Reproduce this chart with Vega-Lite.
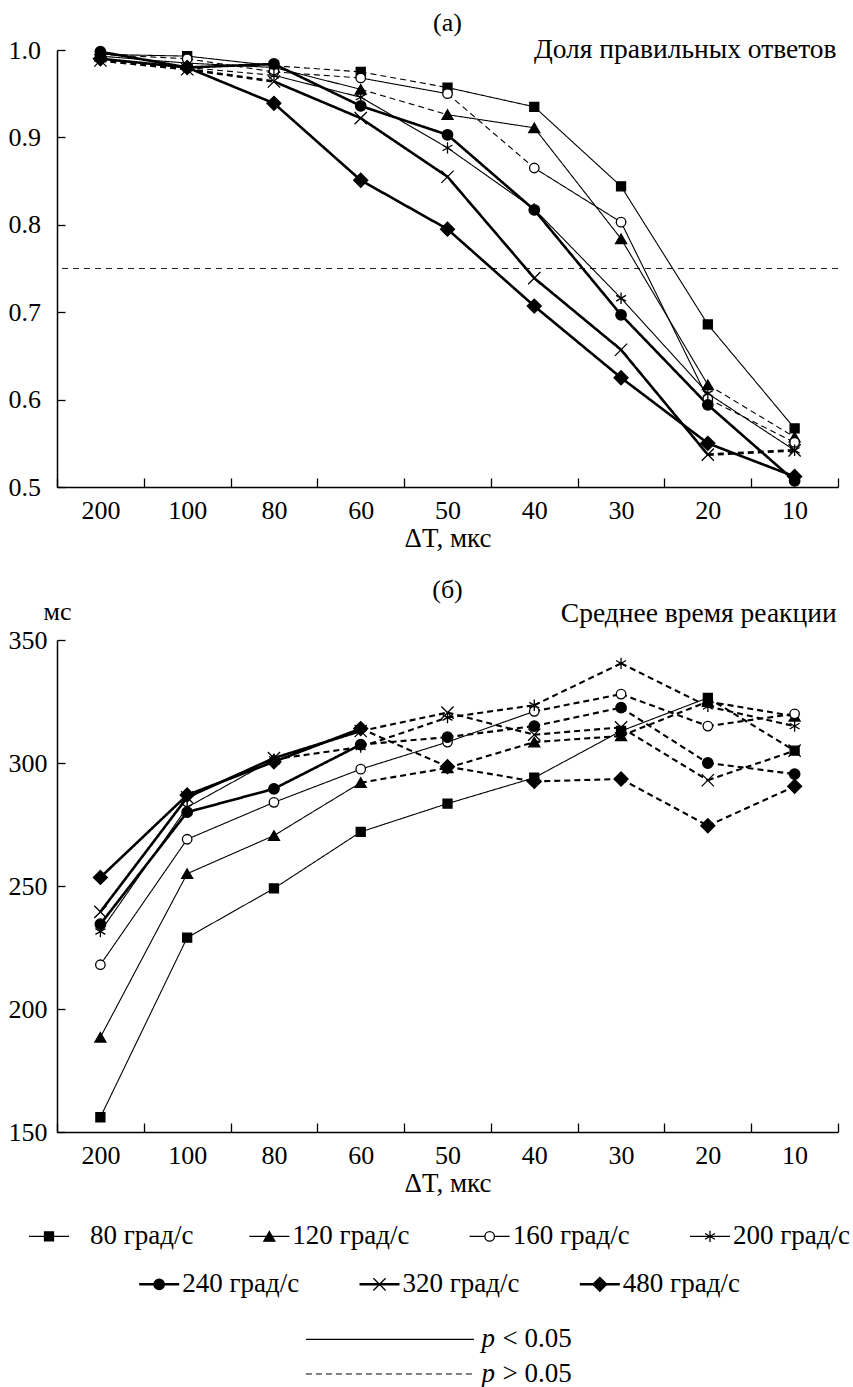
{
  "$schema": "https://vega.github.io/schema/vega-lite/v6.json",
  "background": "white",
  "padding": {"left": 8, "top": 10, "right": 0, "bottom": 0},
  "spacing": 26,
  "config": {
    "view": {"stroke": null},
    "font": "'Liberation Serif', 'Times New Roman', 'DejaVu Serif', serif",
    "axis": {"labelFont": "'Liberation Serif', 'Times New Roman', 'DejaVu Serif', serif", "labelFontSize": 26, "titleFont": "'Liberation Serif', 'Times New Roman', 'DejaVu Serif', serif", "titleFontSize": 27, "titleFontWeight": "normal", "labelColor": "black", "titleColor": "black", "domainColor": "black", "tickColor": "black", "domainWidth": 1.5, "tickWidth": 1.3, "grid": false},
    "text": {"font": "'Liberation Serif', 'Times New Roman', 'DejaVu Serif', serif", "fontSize": 26, "color": "black"}
  },
  "datasets": {
    "ptsA": [
      {"series":"80 град/с","dt":"200","value":0.995},{"series":"80 град/с","dt":"100","value":0.993},{"series":"80 град/с","dt":"80","value":0.982},{"series":"80 град/с","dt":"60","value":0.975},{"series":"80 град/с","dt":"50","value":0.957},{"series":"80 град/с","dt":"40","value":0.935},{"series":"80 град/с","dt":"30","value":0.844},{"series":"80 град/с","dt":"20","value":0.686},{"series":"80 град/с","dt":"10","value":0.567},
      {"series":"120 град/с","dt":"200","value":0.993},{"series":"120 град/с","dt":"100","value":0.985},{"series":"120 град/с","dt":"80","value":0.980},{"series":"120 град/с","dt":"60","value":0.955},{"series":"120 град/с","dt":"50","value":0.926},{"series":"120 град/с","dt":"40","value":0.911},{"series":"120 град/с","dt":"30","value":0.784},{"series":"120 град/с","dt":"20","value":0.617},{"series":"120 град/с","dt":"10","value":0.557},
      {"series":"160 град/с","dt":"200","value":0.995},{"series":"160 град/с","dt":"100","value":0.990},{"series":"160 град/с","dt":"80","value":0.975},{"series":"160 град/с","dt":"60","value":0.968},{"series":"160 град/с","dt":"50","value":0.950},{"series":"160 град/с","dt":"40","value":0.865},{"series":"160 град/с","dt":"30","value":0.803},{"series":"160 град/с","dt":"20","value":0.601},{"series":"160 град/с","dt":"10","value":0.551},
      {"series":"200 град/с","dt":"200","value":0.990},{"series":"200 град/с","dt":"100","value":0.980},{"series":"200 град/с","dt":"80","value":0.971},{"series":"200 град/с","dt":"60","value":0.946},{"series":"200 град/с","dt":"50","value":0.888},{"series":"200 град/с","dt":"40","value":0.818},{"series":"200 град/с","dt":"30","value":0.716},{"series":"200 град/с","dt":"20","value":0.607},{"series":"200 град/с","dt":"10","value":0.542},
      {"series":"240 град/с","dt":"200","value":0.998},{"series":"240 град/с","dt":"100","value":0.980},{"series":"240 град/с","dt":"80","value":0.984},{"series":"240 град/с","dt":"60","value":0.936},{"series":"240 град/с","dt":"50","value":0.903},{"series":"240 град/с","dt":"40","value":0.817},{"series":"240 град/с","dt":"30","value":0.697},{"series":"240 град/с","dt":"20","value":0.594},{"series":"240 град/с","dt":"10","value":0.507},
      {"series":"320 град/с","dt":"200","value":0.988},{"series":"320 град/с","dt":"100","value":0.978},{"series":"320 град/с","dt":"80","value":0.964},{"series":"320 град/с","dt":"60","value":0.922},{"series":"320 град/с","dt":"50","value":0.855},{"series":"320 град/с","dt":"40","value":0.739},{"series":"320 град/с","dt":"30","value":0.657},{"series":"320 град/с","dt":"20","value":0.537},{"series":"320 град/с","dt":"10","value":0.542},
      {"series":"480 град/с","dt":"200","value":0.990},{"series":"480 град/с","dt":"100","value":0.980},{"series":"480 град/с","dt":"80","value":0.939},{"series":"480 град/с","dt":"60","value":0.851},{"series":"480 град/с","dt":"50","value":0.795},{"series":"480 град/с","dt":"40","value":0.707},{"series":"480 град/с","dt":"30","value":0.625},{"series":"480 град/с","dt":"20","value":0.550},{"series":"480 град/с","dt":"10","value":0.512}
    ],
    "ptsB": [
      {"series":"80 град/с","dt":"200","value":156},{"series":"80 град/с","dt":"100","value":229},{"series":"80 град/с","dt":"80","value":249},{"series":"80 град/с","dt":"60","value":272},{"series":"80 град/с","dt":"50","value":283.5},{"series":"80 град/с","dt":"40","value":294},{"series":"80 град/с","dt":"30","value":313},{"series":"80 град/с","dt":"20","value":326.5},{"series":"80 град/с","dt":"10","value":305},
      {"series":"120 град/с","dt":"200","value":188.5},{"series":"120 град/с","dt":"100","value":255},{"series":"120 град/с","dt":"80","value":270.5},{"series":"120 град/с","dt":"60","value":292},{"series":"120 град/с","dt":"50","value":298},{"series":"120 град/с","dt":"40","value":308.5},{"series":"120 град/с","dt":"30","value":311},{"series":"120 град/с","dt":"20","value":325},{"series":"120 град/с","dt":"10","value":319},
      {"series":"160 град/с","dt":"200","value":218},{"series":"160 град/с","dt":"100","value":269},{"series":"160 град/с","dt":"80","value":284},{"series":"160 град/с","dt":"60","value":297.5},{"series":"160 град/с","dt":"50","value":308.5},{"series":"160 град/с","dt":"40","value":321},{"series":"160 град/с","dt":"30","value":328},{"series":"160 град/с","dt":"20","value":315},{"series":"160 град/с","dt":"10","value":320},
      {"series":"200 град/с","dt":"200","value":231.5},{"series":"200 град/с","dt":"100","value":282},{"series":"200 град/с","dt":"80","value":301.5},{"series":"200 град/с","dt":"60","value":306.5},{"series":"200 град/с","dt":"50","value":318.5},{"series":"200 град/с","dt":"40","value":323.5},{"series":"200 град/с","dt":"30","value":340.5},{"series":"200 град/с","dt":"20","value":323},{"series":"200 град/с","dt":"10","value":315},
      {"series":"240 град/с","dt":"200","value":234.5},{"series":"240 град/с","dt":"100","value":280},{"series":"240 град/с","dt":"80","value":289.5},{"series":"240 град/с","dt":"60","value":307.5},{"series":"240 град/с","dt":"50","value":310.5},{"series":"240 град/с","dt":"40","value":315},{"series":"240 град/с","dt":"30","value":322.5},{"series":"240 град/с","dt":"20","value":300},{"series":"240 град/с","dt":"10","value":295.5},
      {"series":"320 град/с","dt":"200","value":239.5},{"series":"320 град/с","dt":"100","value":286},{"series":"320 град/с","dt":"80","value":302},{"series":"320 град/с","dt":"60","value":313},{"series":"320 град/с","dt":"50","value":320.5},{"series":"320 град/с","dt":"40","value":311.5},{"series":"320 град/с","dt":"30","value":314.5},{"series":"320 град/с","dt":"20","value":293},{"series":"320 град/с","dt":"10","value":305},
      {"series":"480 град/с","dt":"200","value":253.5},{"series":"480 град/с","dt":"100","value":287},{"series":"480 град/с","dt":"80","value":300.5},{"series":"480 град/с","dt":"60","value":314},{"series":"480 град/с","dt":"50","value":298.5},{"series":"480 град/с","dt":"40","value":292.5},{"series":"480 град/с","dt":"30","value":293.5},{"series":"480 град/с","dt":"20","value":274.5},{"series":"480 град/с","dt":"10","value":290.5}
    ],
    "segA": [
      {"series":"80 град/с","from":"200","to":"100","v1":0.995,"v2":0.993,"sig":"p < 0.05"},
      {"series":"80 град/с","from":"100","to":"80","v1":0.993,"v2":0.982,"sig":"p < 0.05"},
      {"series":"80 град/с","from":"80","to":"60","v1":0.982,"v2":0.975,"sig":"p > 0.05"},
      {"series":"80 град/с","from":"60","to":"50","v1":0.975,"v2":0.957,"sig":"p > 0.05"},
      {"series":"80 град/с","from":"50","to":"40","v1":0.957,"v2":0.935,"sig":"p < 0.05"},
      {"series":"80 град/с","from":"40","to":"30","v1":0.935,"v2":0.844,"sig":"p < 0.05"},
      {"series":"80 град/с","from":"30","to":"20","v1":0.844,"v2":0.686,"sig":"p < 0.05"},
      {"series":"80 град/с","from":"20","to":"10","v1":0.686,"v2":0.567,"sig":"p < 0.05"},
      {"series":"120 град/с","from":"200","to":"100","v1":0.993,"v2":0.985,"sig":"p < 0.05"},
      {"series":"120 град/с","from":"100","to":"80","v1":0.985,"v2":0.980,"sig":"p < 0.05"},
      {"series":"120 град/с","from":"80","to":"60","v1":0.980,"v2":0.955,"sig":"p < 0.05"},
      {"series":"120 град/с","from":"60","to":"50","v1":0.955,"v2":0.926,"sig":"p > 0.05"},
      {"series":"120 град/с","from":"50","to":"40","v1":0.926,"v2":0.911,"sig":"p < 0.05"},
      {"series":"120 град/с","from":"40","to":"30","v1":0.911,"v2":0.784,"sig":"p < 0.05"},
      {"series":"120 град/с","from":"30","to":"20","v1":0.784,"v2":0.617,"sig":"p < 0.05"},
      {"series":"120 град/с","from":"20","to":"10","v1":0.617,"v2":0.557,"sig":"p > 0.05"},
      {"series":"160 град/с","from":"200","to":"100","v1":0.995,"v2":0.990,"sig":"p > 0.05"},
      {"series":"160 град/с","from":"100","to":"80","v1":0.990,"v2":0.975,"sig":"p > 0.05"},
      {"series":"160 град/с","from":"80","to":"60","v1":0.975,"v2":0.968,"sig":"p > 0.05"},
      {"series":"160 град/с","from":"60","to":"50","v1":0.968,"v2":0.950,"sig":"p < 0.05"},
      {"series":"160 град/с","from":"50","to":"40","v1":0.950,"v2":0.865,"sig":"p > 0.05"},
      {"series":"160 град/с","from":"40","to":"30","v1":0.865,"v2":0.803,"sig":"p < 0.05"},
      {"series":"160 град/с","from":"30","to":"20","v1":0.803,"v2":0.601,"sig":"p < 0.05"},
      {"series":"160 град/с","from":"20","to":"10","v1":0.601,"v2":0.551,"sig":"p > 0.05"},
      {"series":"200 град/с","from":"200","to":"100","v1":0.990,"v2":0.980,"sig":"p < 0.05"},
      {"series":"200 град/с","from":"100","to":"80","v1":0.980,"v2":0.971,"sig":"p > 0.05"},
      {"series":"200 град/с","from":"80","to":"60","v1":0.971,"v2":0.946,"sig":"p < 0.05"},
      {"series":"200 град/с","from":"60","to":"50","v1":0.946,"v2":0.888,"sig":"p < 0.05"},
      {"series":"200 град/с","from":"50","to":"40","v1":0.888,"v2":0.818,"sig":"p < 0.05"},
      {"series":"200 град/с","from":"40","to":"30","v1":0.818,"v2":0.716,"sig":"p < 0.05"},
      {"series":"200 град/с","from":"30","to":"20","v1":0.716,"v2":0.607,"sig":"p < 0.05"},
      {"series":"200 град/с","from":"20","to":"10","v1":0.607,"v2":0.542,"sig":"p < 0.05"},
      {"series":"240 град/с","from":"200","to":"100","v1":0.998,"v2":0.980,"sig":"p < 0.05"},
      {"series":"240 град/с","from":"100","to":"80","v1":0.980,"v2":0.984,"sig":"p < 0.05"},
      {"series":"240 град/с","from":"80","to":"60","v1":0.984,"v2":0.936,"sig":"p < 0.05"},
      {"series":"240 град/с","from":"60","to":"50","v1":0.936,"v2":0.903,"sig":"p < 0.05"},
      {"series":"240 град/с","from":"50","to":"40","v1":0.903,"v2":0.817,"sig":"p < 0.05"},
      {"series":"240 град/с","from":"40","to":"30","v1":0.817,"v2":0.697,"sig":"p < 0.05"},
      {"series":"240 град/с","from":"30","to":"20","v1":0.697,"v2":0.594,"sig":"p < 0.05"},
      {"series":"240 град/с","from":"20","to":"10","v1":0.594,"v2":0.507,"sig":"p < 0.05"},
      {"series":"320 град/с","from":"200","to":"100","v1":0.988,"v2":0.978,"sig":"p > 0.05"},
      {"series":"320 град/с","from":"100","to":"80","v1":0.978,"v2":0.964,"sig":"p > 0.05"},
      {"series":"320 град/с","from":"80","to":"60","v1":0.964,"v2":0.922,"sig":"p < 0.05"},
      {"series":"320 град/с","from":"60","to":"50","v1":0.922,"v2":0.855,"sig":"p < 0.05"},
      {"series":"320 град/с","from":"50","to":"40","v1":0.855,"v2":0.739,"sig":"p < 0.05"},
      {"series":"320 град/с","from":"40","to":"30","v1":0.739,"v2":0.657,"sig":"p < 0.05"},
      {"series":"320 град/с","from":"30","to":"20","v1":0.657,"v2":0.537,"sig":"p < 0.05"},
      {"series":"320 град/с","from":"20","to":"10","v1":0.537,"v2":0.542,"sig":"p > 0.05"},
      {"series":"480 град/с","from":"200","to":"100","v1":0.990,"v2":0.980,"sig":"p < 0.05"},
      {"series":"480 град/с","from":"100","to":"80","v1":0.980,"v2":0.939,"sig":"p < 0.05"},
      {"series":"480 град/с","from":"80","to":"60","v1":0.939,"v2":0.851,"sig":"p < 0.05"},
      {"series":"480 град/с","from":"60","to":"50","v1":0.851,"v2":0.795,"sig":"p < 0.05"},
      {"series":"480 град/с","from":"50","to":"40","v1":0.795,"v2":0.707,"sig":"p < 0.05"},
      {"series":"480 град/с","from":"40","to":"30","v1":0.707,"v2":0.625,"sig":"p < 0.05"},
      {"series":"480 град/с","from":"30","to":"20","v1":0.625,"v2":0.550,"sig":"p < 0.05"},
      {"series":"480 град/с","from":"20","to":"10","v1":0.550,"v2":0.512,"sig":"p < 0.05"}
    ],
    "segB": [
      {"series":"80 град/с","from":"200","to":"100","v1":156,"v2":229,"sig":"p < 0.05"},
      {"series":"80 град/с","from":"100","to":"80","v1":229,"v2":249,"sig":"p < 0.05"},
      {"series":"80 град/с","from":"80","to":"60","v1":249,"v2":272,"sig":"p < 0.05"},
      {"series":"80 град/с","from":"60","to":"50","v1":272,"v2":283.5,"sig":"p < 0.05"},
      {"series":"80 град/с","from":"50","to":"40","v1":283.5,"v2":294,"sig":"p < 0.05"},
      {"series":"80 град/с","from":"40","to":"30","v1":294,"v2":313,"sig":"p < 0.05"},
      {"series":"80 град/с","from":"30","to":"20","v1":313,"v2":326.5,"sig":"p < 0.05"},
      {"series":"80 град/с","from":"20","to":"10","v1":326.5,"v2":305,"sig":"p > 0.05"},
      {"series":"120 град/с","from":"200","to":"100","v1":188.5,"v2":255,"sig":"p < 0.05"},
      {"series":"120 град/с","from":"100","to":"80","v1":255,"v2":270.5,"sig":"p < 0.05"},
      {"series":"120 град/с","from":"80","to":"60","v1":270.5,"v2":292,"sig":"p < 0.05"},
      {"series":"120 град/с","from":"60","to":"50","v1":292,"v2":298,"sig":"p > 0.05"},
      {"series":"120 град/с","from":"50","to":"40","v1":298,"v2":308.5,"sig":"p > 0.05"},
      {"series":"120 град/с","from":"40","to":"30","v1":308.5,"v2":311,"sig":"p > 0.05"},
      {"series":"120 град/с","from":"30","to":"20","v1":311,"v2":325,"sig":"p > 0.05"},
      {"series":"120 град/с","from":"20","to":"10","v1":325,"v2":319,"sig":"p > 0.05"},
      {"series":"160 град/с","from":"200","to":"100","v1":218,"v2":269,"sig":"p < 0.05"},
      {"series":"160 град/с","from":"100","to":"80","v1":269,"v2":284,"sig":"p < 0.05"},
      {"series":"160 град/с","from":"80","to":"60","v1":284,"v2":297.5,"sig":"p < 0.05"},
      {"series":"160 град/с","from":"60","to":"50","v1":297.5,"v2":308.5,"sig":"p < 0.05"},
      {"series":"160 град/с","from":"50","to":"40","v1":308.5,"v2":321,"sig":"p < 0.05"},
      {"series":"160 град/с","from":"40","to":"30","v1":321,"v2":328,"sig":"p > 0.05"},
      {"series":"160 град/с","from":"30","to":"20","v1":328,"v2":315,"sig":"p > 0.05"},
      {"series":"160 град/с","from":"20","to":"10","v1":315,"v2":320,"sig":"p > 0.05"},
      {"series":"200 град/с","from":"200","to":"100","v1":231.5,"v2":282,"sig":"p < 0.05"},
      {"series":"200 град/с","from":"100","to":"80","v1":282,"v2":301.5,"sig":"p < 0.05"},
      {"series":"200 град/с","from":"80","to":"60","v1":301.5,"v2":306.5,"sig":"p > 0.05"},
      {"series":"200 град/с","from":"60","to":"50","v1":306.5,"v2":318.5,"sig":"p > 0.05"},
      {"series":"200 град/с","from":"50","to":"40","v1":318.5,"v2":323.5,"sig":"p > 0.05"},
      {"series":"200 град/с","from":"40","to":"30","v1":323.5,"v2":340.5,"sig":"p > 0.05"},
      {"series":"200 град/с","from":"30","to":"20","v1":340.5,"v2":323,"sig":"p > 0.05"},
      {"series":"200 град/с","from":"20","to":"10","v1":323,"v2":315,"sig":"p > 0.05"},
      {"series":"240 град/с","from":"200","to":"100","v1":234.5,"v2":280,"sig":"p < 0.05"},
      {"series":"240 град/с","from":"100","to":"80","v1":280,"v2":289.5,"sig":"p < 0.05"},
      {"series":"240 град/с","from":"80","to":"60","v1":289.5,"v2":307.5,"sig":"p < 0.05"},
      {"series":"240 град/с","from":"60","to":"50","v1":307.5,"v2":310.5,"sig":"p > 0.05"},
      {"series":"240 град/с","from":"50","to":"40","v1":310.5,"v2":315,"sig":"p > 0.05"},
      {"series":"240 град/с","from":"40","to":"30","v1":315,"v2":322.5,"sig":"p > 0.05"},
      {"series":"240 град/с","from":"30","to":"20","v1":322.5,"v2":300,"sig":"p > 0.05"},
      {"series":"240 град/с","from":"20","to":"10","v1":300,"v2":295.5,"sig":"p > 0.05"},
      {"series":"320 град/с","from":"200","to":"100","v1":239.5,"v2":286,"sig":"p < 0.05"},
      {"series":"320 град/с","from":"100","to":"80","v1":286,"v2":302,"sig":"p < 0.05"},
      {"series":"320 град/с","from":"80","to":"60","v1":302,"v2":313,"sig":"p < 0.05"},
      {"series":"320 град/с","from":"60","to":"50","v1":313,"v2":320.5,"sig":"p > 0.05"},
      {"series":"320 град/с","from":"50","to":"40","v1":320.5,"v2":311.5,"sig":"p > 0.05"},
      {"series":"320 град/с","from":"40","to":"30","v1":311.5,"v2":314.5,"sig":"p > 0.05"},
      {"series":"320 град/с","from":"30","to":"20","v1":314.5,"v2":293,"sig":"p > 0.05"},
      {"series":"320 град/с","from":"20","to":"10","v1":293,"v2":305,"sig":"p > 0.05"},
      {"series":"480 град/с","from":"200","to":"100","v1":253.5,"v2":287,"sig":"p < 0.05"},
      {"series":"480 град/с","from":"100","to":"80","v1":287,"v2":300.5,"sig":"p < 0.05"},
      {"series":"480 град/с","from":"80","to":"60","v1":300.5,"v2":314,"sig":"p < 0.05"},
      {"series":"480 град/с","from":"60","to":"50","v1":314,"v2":298.5,"sig":"p > 0.05"},
      {"series":"480 град/с","from":"50","to":"40","v1":298.5,"v2":292.5,"sig":"p > 0.05"},
      {"series":"480 град/с","from":"40","to":"30","v1":292.5,"v2":293.5,"sig":"p > 0.05"},
      {"series":"480 град/с","from":"30","to":"20","v1":293.5,"v2":274.5,"sig":"p > 0.05"},
      {"series":"480 град/с","from":"20","to":"10","v1":274.5,"v2":290.5,"sig":"p > 0.05"}
    ],
    "sigs": [{"sig":"p < 0.05"},{"sig":"p > 0.05"}]
  },
  "vconcat": [
    {
      "width": 781, "height": 437,
      "layer": [
        {
          "data": {"values": [{"level": 0.75}]},
          "mark": {"type": "rule", "strokeDash": [6, 5], "color": "#222", "strokeWidth": 1},
          "encoding": {"y": {"field": "level", "type": "quantitative", "scale": {"domain": [0.5, 1.0], "nice": false, "zero": false}, "axis": {"title": null, "values": [0.5, 0.6, 0.7, 0.8, 0.9, 1.0], "format": ".1f", "tickSize": -8, "labelAlign": "left", "labelPadding": 57}}}
        },
        {
          "data": {"name": "segA"},
          "mark": {"type": "rule", "color": "black"},
          "encoding": {
            "x": {"field": "from", "type": "nominal", "bandPosition": 0.5, "scale": {"type": "band", "domain": ["200","100","80","60","50","40","30","20","10"], "paddingInner": 0, "paddingOuter": 0}, "axis": {"title": "ΔT, мкс", "labelAngle": 0, "tickBand": "extent", "tickSize": -9, "labelPadding": 32, "labelBaseline": "middle", "titlePadding": 2}},
            "x2": {"field": "to", "bandPosition": 0.5},
            "y": {"field": "v1", "type": "quantitative", "scale": {"domain": [0.5, 1.0], "nice": false, "zero": false}},
            "y2": {"field": "v2"},
            "strokeDash": {"field": "sig", "type": "nominal", "scale": {"domain": ["p < 0.05", "p > 0.05"], "range": [[1, 0], [6, 4]]}, "legend": null},
            "strokeWidth": {"field": "series", "type": "nominal", "scale": {"type": "ordinal", "domain": ["80 град/с","120 град/с","160 град/с","200 град/с","240 град/с","320 град/с","480 град/с"], "range": [1.1, 1.1, 1.1, 1.1, 2.6, 2.6, 2.6]}, "legend": null}
          }
        },
        {
          "data": {"name": "ptsA"},
          "mark": {"type": "point", "filled": true, "stroke": "black", "strokeWidth": 1.3, "opacity": 1},
          "encoding": {
            "x": {"field": "dt", "type": "nominal", "scale": {"type": "band", "domain": ["200","100","80","60","50","40","30","20","10"], "paddingInner": 0, "paddingOuter": 0}},
            "y": {"field": "value", "type": "quantitative", "scale": {"domain": [0.5, 1.0], "nice": false, "zero": false}},
            "shape": {"field": "series", "type": "nominal", "scale": {"domain": ["80 град/с","120 град/с","160 град/с","200 град/с","240 град/с","320 град/с","480 град/с"], "range": ["square", "triangle-up", "circle", "M0,-1V1M-0.87,-0.5L0.87,0.5M-0.87,0.5L0.87,-0.5", "circle", "M-1,-1L1,1M-1,1L1,-1", "diamond"]}, "legend": null},
            "fill": {"field": "series", "type": "nominal", "scale": {"domain": ["80 град/с","120 град/с","160 град/с","200 град/с","240 град/с","320 град/с","480 град/с"], "range": ["black", "black", "white", "black", "black", "black", "black"]}, "legend": null},
            "size": {"field": "series", "type": "nominal", "scale": {"type": "ordinal", "domain": ["80 град/с","120 град/с","160 град/с","200 град/с","240 град/с","320 град/с","480 град/с"], "range": [81, 121, 90, 130, 110, 150, 196]}, "legend": null}
          }
        },
        {
          "data": {"values": [{"label": "(a)"}]},
          "mark": {"type": "text", "align": "center", "baseline": "middle", "dy": -27, "fontSize": 26},
          "encoding": {
            "x": {"datum": "50", "type": "nominal", "scale": {"type": "band", "domain": ["200","100","80","60","50","40","30","20","10"], "paddingInner": 0, "paddingOuter": 0}},
            "y": {"datum": 1.0, "type": "quantitative", "scale": {"domain": [0.5, 1.0], "nice": false, "zero": false}},
            "text": {"field": "label"}
          }
        },
        {
          "data": {"values": [{"label": "Доля правильных ответов"}]},
          "mark": {"type": "text", "align": "right", "baseline": "alphabetic", "dx": 42, "dy": 8, "fontSize": 27.5},
          "encoding": {
            "x": {"datum": "10", "type": "nominal", "scale": {"type": "band", "domain": ["200","100","80","60","50","40","30","20","10"], "paddingInner": 0, "paddingOuter": 0}},
            "y": {"datum": 1.0, "type": "quantitative", "scale": {"domain": [0.5, 1.0], "nice": false, "zero": false}},
            "text": {"field": "label"}
          }
        }
      ]
    },
    {
      "width": 781, "height": 492,
      "layer": [
        {
          "data": {"name": "segB"},
          "transform": [{"filter": {"field": "sig", "equal": "p < 0.05"}}],
          "mark": {"type": "rule", "color": "black"},
          "encoding": {
            "x": {"field": "from", "type": "nominal", "bandPosition": 0.5, "scale": {"type": "band", "domain": ["200","100","80","60","50","40","30","20","10"], "paddingInner": 0, "paddingOuter": 0}, "axis": {"title": "ΔT, мкс", "labelAngle": 0, "tickBand": "extent", "tickSize": -9, "labelPadding": 32, "labelBaseline": "middle", "titlePadding": 2}},
            "x2": {"field": "to", "bandPosition": 0.5},
            "y": {"field": "v1", "type": "quantitative", "scale": {"domain": [150, 350], "nice": false, "zero": false}, "axis": {"title": "мс", "titleAngle": 0, "titleX": 0, "titleY": -29, "titleAlign": "center", "titleBaseline": "middle", "titleFontSize": 26, "values": [150, 200, 250, 300, 350], "tickSize": -8, "labelAlign": "left", "labelPadding": 57}},
            "y2": {"field": "v2"},
            "strokeDash": {"field": "sig", "type": "nominal", "scale": {"domain": ["p < 0.05", "p > 0.05"], "range": [[1, 0], [6, 4]]}, "legend": null},
            "strokeWidth": {"field": "series", "type": "nominal", "scale": {"type": "ordinal", "domain": ["80 град/с","120 град/с","160 град/с","200 град/с","240 град/с","320 град/с","480 град/с"], "range": [1.1, 1.1, 1.1, 1.1, 2.6, 2.6, 2.6]}, "legend": null}
          }
        },
        {
          "data": {"name": "segB"},
          "transform": [{"filter": {"field": "sig", "equal": "p > 0.05"}}],
          "mark": {"type": "rule", "color": "black", "strokeWidth": 2.1},
          "encoding": {
            "x": {"field": "from", "type": "nominal", "bandPosition": 0.5, "scale": {"type": "band", "domain": ["200","100","80","60","50","40","30","20","10"], "paddingInner": 0, "paddingOuter": 0}},
            "x2": {"field": "to", "bandPosition": 0.5},
            "y": {"field": "v1", "type": "quantitative", "scale": {"domain": [150, 350], "nice": false, "zero": false}},
            "y2": {"field": "v2"},
            "strokeDash": {"field": "sig", "type": "nominal", "scale": {"domain": ["p < 0.05", "p > 0.05"], "range": [[1, 0], [6, 4]]}, "legend": null}
          }
        },
        {
          "data": {"name": "ptsB"},
          "mark": {"type": "point", "filled": true, "stroke": "black", "strokeWidth": 1.3, "opacity": 1},
          "encoding": {
            "x": {"field": "dt", "type": "nominal", "scale": {"type": "band", "domain": ["200","100","80","60","50","40","30","20","10"], "paddingInner": 0, "paddingOuter": 0}},
            "y": {"field": "value", "type": "quantitative", "scale": {"domain": [150, 350], "nice": false, "zero": false}},
            "shape": {"field": "series", "type": "nominal", "scale": {"domain": ["80 град/с","120 град/с","160 град/с","200 град/с","240 град/с","320 град/с","480 град/с"], "range": ["square", "triangle-up", "circle", "M0,-1V1M-0.87,-0.5L0.87,0.5M-0.87,0.5L0.87,-0.5", "circle", "M-1,-1L1,1M-1,1L1,-1", "diamond"]}, "legend": null},
            "fill": {"field": "series", "type": "nominal", "scale": {"domain": ["80 град/с","120 град/с","160 град/с","200 град/с","240 град/с","320 град/с","480 град/с"], "range": ["black", "black", "white", "black", "black", "black", "black"]}, "legend": null},
            "size": {"field": "series", "type": "nominal", "scale": {"type": "ordinal", "domain": ["80 град/с","120 град/с","160 град/с","200 град/с","240 град/с","320 град/с","480 град/с"], "range": [81, 121, 90, 130, 110, 150, 196]}, "legend": null}
          }
        },
        {
          "data": {"values": [{"label": "(б)"}]},
          "mark": {"type": "text", "align": "center", "baseline": "middle", "dy": -50, "fontSize": 26},
          "encoding": {
            "x": {"datum": "50", "type": "nominal", "scale": {"type": "band", "domain": ["200","100","80","60","50","40","30","20","10"], "paddingInner": 0, "paddingOuter": 0}},
            "y": {"datum": 350, "type": "quantitative", "scale": {"domain": [150, 350], "nice": false, "zero": false}},
            "text": {"field": "label"}
          }
        },
        {
          "data": {"values": [{"label": "Среднее время реакции"}]},
          "mark": {"type": "text", "align": "right", "baseline": "alphabetic", "dx": 42, "dy": -18, "fontSize": 27.5},
          "encoding": {
            "x": {"datum": "10", "type": "nominal", "scale": {"type": "band", "domain": ["200","100","80","60","50","40","30","20","10"], "paddingInner": 0, "paddingOuter": 0}},
            "y": {"datum": 350, "type": "quantitative", "scale": {"domain": [150, 350], "nice": false, "zero": false}},
            "text": {"field": "label"}
          }
        }
      ]
    },
    {
      "width": 661, "height": 163,
      "layer": [
        {
          "data": {"name": "ptsA"},
          "transform": [{"filter": {"field": "dt", "equal": "200"}}, {"filter": {"field": "series", "oneOf": ["80 град/с","120 град/с","160 град/с","200 град/с"]}}],
          "mark": {"type": "point", "shape": "stroke", "size": 1600, "stroke": "black", "filled": false, "opacity": 1},
          "encoding": {
            "x": {"field": "series", "type": "nominal", "scale": {"type": "point", "domain": ["80 град/с","240 град/с","120 град/с","320 град/с","160 град/с","480 град/с","200 град/с"], "padding": 0}, "axis": null},
            "xOffset": {"value": -8},
            "y": {"datum": 0.3, "type": "quantitative", "scale": {"domain": [0, 3.4], "reverse": true, "nice": false, "zero": false}, "axis": {"title": null, "labels": false, "ticks": false, "domain": true, "domainColor": "transparent", "grid": false}},
            "strokeWidth": {"field": "series", "type": "nominal", "scale": {"type": "ordinal", "domain": ["80 град/с","120 град/с","160 град/с","200 град/с","240 град/с","320 град/с","480 град/с"], "range": [1.1, 1.1, 1.1, 1.1, 2.6, 2.6, 2.6]}, "legend": null}
          }
        },
        {
          "data": {"name": "ptsA"},
          "transform": [{"filter": {"field": "dt", "equal": "200"}}, {"filter": {"field": "series", "oneOf": ["240 град/с","320 град/с","480 град/с"]}}],
          "mark": {"type": "point", "shape": "stroke", "size": 1600, "stroke": "black", "filled": false, "opacity": 1},
          "encoding": {
            "x": {"field": "series", "type": "nominal", "scale": {"type": "point", "domain": ["80 град/с","240 град/с","120 град/с","320 град/с","160 град/с","480 град/с","200 град/с"], "padding": 0}, "axis": null},
            "xOffset": {"value": -8},
            "y": {"datum": 1.3, "type": "quantitative", "scale": {"domain": [0, 3.4], "reverse": true, "nice": false, "zero": false}},
            "strokeWidth": {"field": "series", "type": "nominal", "scale": {"type": "ordinal", "domain": ["80 град/с","120 град/с","160 град/с","200 град/с","240 град/с","320 град/с","480 град/с"], "range": [1.1, 1.1, 1.1, 1.1, 2.6, 2.6, 2.6]}, "legend": null}
          }
        },
        {
          "data": {"name": "ptsA"},
          "transform": [{"filter": {"field": "dt", "equal": "200"}}, {"filter": {"field": "series", "oneOf": ["80 град/с","120 град/с","160 град/с","200 град/с"]}}],
          "mark": {"type": "point", "filled": true, "stroke": "black", "strokeWidth": 1.3, "opacity": 1},
          "encoding": {
            "x": {"field": "series", "type": "nominal", "scale": {"type": "point", "domain": ["80 град/с","240 град/с","120 град/с","320 град/с","160 град/с","480 град/с","200 град/с"], "padding": 0}, "axis": null},
            "xOffset": {"value": -8},
            "y": {"datum": 0.3, "type": "quantitative", "scale": {"domain": [0, 3.4], "reverse": true, "nice": false, "zero": false}},
            "shape": {"field": "series", "type": "nominal", "scale": {"domain": ["80 град/с","120 град/с","160 град/с","200 град/с","240 град/с","320 град/с","480 град/с"], "range": ["square", "triangle-up", "circle", "M0,-1V1M-0.87,-0.5L0.87,0.5M-0.87,0.5L0.87,-0.5", "circle", "M-1,-1L1,1M-1,1L1,-1", "diamond"]}, "legend": null},
            "fill": {"field": "series", "type": "nominal", "scale": {"domain": ["80 град/с","120 град/с","160 град/с","200 град/с","240 град/с","320 град/с","480 град/с"], "range": ["black", "black", "white", "black", "black", "black", "black"]}, "legend": null},
            "size": {"field": "series", "type": "nominal", "scale": {"type": "ordinal", "domain": ["80 град/с","120 град/с","160 град/с","200 град/с","240 град/с","320 град/с","480 град/с"], "range": [81, 121, 90, 130, 110, 150, 196]}, "legend": null}
          }
        },
        {
          "data": {"name": "ptsA"},
          "transform": [{"filter": {"field": "dt", "equal": "200"}}, {"filter": {"field": "series", "oneOf": ["240 град/с","320 град/с","480 град/с"]}}],
          "mark": {"type": "point", "filled": true, "stroke": "black", "strokeWidth": 1.3, "opacity": 1},
          "encoding": {
            "x": {"field": "series", "type": "nominal", "scale": {"type": "point", "domain": ["80 град/с","240 град/с","120 град/с","320 град/с","160 град/с","480 град/с","200 град/с"], "padding": 0}, "axis": null},
            "xOffset": {"value": -8},
            "y": {"datum": 1.3, "type": "quantitative", "scale": {"domain": [0, 3.4], "reverse": true, "nice": false, "zero": false}},
            "shape": {"field": "series", "type": "nominal", "scale": {"domain": ["80 град/с","120 град/с","160 град/с","200 град/с","240 град/с","320 град/с","480 град/с"], "range": ["square", "triangle-up", "circle", "M0,-1V1M-0.87,-0.5L0.87,0.5M-0.87,0.5L0.87,-0.5", "circle", "M-1,-1L1,1M-1,1L1,-1", "diamond"]}, "legend": null},
            "fill": {"field": "series", "type": "nominal", "scale": {"domain": ["80 град/с","120 град/с","160 град/с","200 град/с","240 град/с","320 град/с","480 град/с"], "range": ["black", "black", "white", "black", "black", "black", "black"]}, "legend": null},
            "size": {"field": "series", "type": "nominal", "scale": {"type": "ordinal", "domain": ["80 град/с","120 град/с","160 град/с","200 град/с","240 град/с","320 град/с","480 град/с"], "range": [81, 121, 90, 130, 110, 150, 196]}, "legend": null}
          }
        },
        {
          "data": {"name": "ptsA"},
          "transform": [{"filter": {"field": "dt", "equal": "200"}}, {"filter": {"field": "series", "equal": "80 град/с"}}],
          "mark": {"type": "text", "align": "left", "baseline": "middle", "dx": 33, "fontSize": 27},
          "encoding": {
            "x": {"field": "series", "type": "nominal", "scale": {"type": "point", "domain": ["80 град/с","240 град/с","120 град/с","320 град/с","160 град/с","480 град/с","200 град/с"], "padding": 0}, "axis": null},
            "y": {"datum": 0.3, "type": "quantitative", "scale": {"domain": [0, 3.4], "reverse": true, "nice": false, "zero": false}},
            "text": {"field": "series"}
          }
        },
        {
          "data": {"name": "ptsA"},
          "transform": [{"filter": {"field": "dt", "equal": "200"}}, {"filter": {"field": "series", "oneOf": ["120 град/с","160 град/с","200 град/с"]}}],
          "mark": {"type": "text", "align": "left", "baseline": "middle", "dx": 15, "fontSize": 27},
          "encoding": {
            "x": {"field": "series", "type": "nominal", "scale": {"type": "point", "domain": ["80 град/с","240 град/с","120 град/с","320 град/с","160 град/с","480 град/с","200 град/с"], "padding": 0}, "axis": null},
            "y": {"datum": 0.3, "type": "quantitative", "scale": {"domain": [0, 3.4], "reverse": true, "nice": false, "zero": false}},
            "text": {"field": "series"}
          }
        },
        {
          "data": {"name": "ptsA"},
          "transform": [{"filter": {"field": "dt", "equal": "200"}}, {"filter": {"field": "series", "oneOf": ["240 град/с","320 град/с","480 град/с"]}}],
          "mark": {"type": "text", "align": "left", "baseline": "middle", "dx": 15, "fontSize": 27},
          "encoding": {
            "x": {"field": "series", "type": "nominal", "scale": {"type": "point", "domain": ["80 град/с","240 град/с","120 град/с","320 град/с","160 град/с","480 град/с","200 град/с"], "padding": 0}, "axis": null},
            "y": {"datum": 1.3, "type": "quantitative", "scale": {"domain": [0, 3.4], "reverse": true, "nice": false, "zero": false}},
            "text": {"field": "series"}
          }
        },
        {
          "data": {"name": "sigs"},
          "transform": [{"filter": {"field": "sig", "equal": "p < 0.05"}}],
          "mark": {"type": "point", "shape": "M-0.876,0H1.124", "size": 28224, "stroke": "black", "strokeWidth": 1.3, "filled": false, "opacity": 1},
          "encoding": {
            "x": {"datum": "320 град/с", "type": "nominal", "scale": {"type": "point", "domain": ["80 град/с","240 град/с","120 град/с","320 град/с","160 град/с","480 град/с","200 град/с"], "padding": 0}, "axis": null},
            "xOffset": {"value": -8},
            "y": {"datum": 2.45, "type": "quantitative", "scale": {"domain": [0, 3.4], "reverse": true, "nice": false, "zero": false}},
            "strokeDash": {"field": "sig", "type": "nominal", "scale": {"domain": ["p < 0.05", "p > 0.05"], "range": [[1, 0], [6, 4]]}, "legend": null}
          }
        },
        {
          "data": {"name": "sigs"},
          "transform": [{"filter": {"field": "sig", "equal": "p > 0.05"}}],
          "mark": {"type": "point", "shape": "M-0.876,0H1.124", "size": 28224, "stroke": "black", "strokeWidth": 1, "filled": false, "opacity": 1},
          "encoding": {
            "x": {"datum": "320 град/с", "type": "nominal", "scale": {"type": "point", "domain": ["80 град/с","240 град/с","120 град/с","320 град/с","160 град/с","480 град/с","200 град/с"], "padding": 0}, "axis": null},
            "xOffset": {"value": -8},
            "y": {"datum": 3.17, "type": "quantitative", "scale": {"domain": [0, 3.4], "reverse": true, "nice": false, "zero": false}},
            "strokeDash": {"field": "sig", "type": "nominal", "scale": {"domain": ["p < 0.05", "p > 0.05"], "range": [[1, 0], [6, 4]]}, "legend": null}
          }
        },
        {
          "data": {"name": "sigs"},
          "transform": [{"filter": {"field": "sig", "equal": "p < 0.05"}}],
          "mark": {"type": "text", "align": "left", "baseline": "middle", "dx": 94, "fontSize": 27, "fontStyle": "italic"},
          "encoding": {
            "x": {"datum": "320 град/с", "type": "nominal", "scale": {"type": "point", "domain": ["80 град/с","240 град/с","120 град/с","320 град/с","160 град/с","480 град/с","200 град/с"], "padding": 0}, "axis": null},
            "y": {"datum": 2.45, "type": "quantitative", "scale": {"domain": [0, 3.4], "reverse": true, "nice": false, "zero": false}},
            "text": {"value": "p"}
          }
        },
        {
          "data": {"name": "sigs"},
          "transform": [{"filter": {"field": "sig", "equal": "p < 0.05"}}],
          "mark": {"type": "text", "align": "left", "baseline": "middle", "dx": 115, "fontSize": 27},
          "encoding": {
            "x": {"datum": "320 град/с", "type": "nominal", "scale": {"type": "point", "domain": ["80 град/с","240 град/с","120 град/с","320 град/с","160 град/с","480 град/с","200 град/с"], "padding": 0}, "axis": null},
            "y": {"datum": 2.45, "type": "quantitative", "scale": {"domain": [0, 3.4], "reverse": true, "nice": false, "zero": false}},
            "text": {"value": "< 0.05"}
          }
        },
        {
          "data": {"name": "sigs"},
          "transform": [{"filter": {"field": "sig", "equal": "p > 0.05"}}],
          "mark": {"type": "text", "align": "left", "baseline": "middle", "dx": 94, "fontSize": 27, "fontStyle": "italic"},
          "encoding": {
            "x": {"datum": "320 град/с", "type": "nominal", "scale": {"type": "point", "domain": ["80 град/с","240 град/с","120 град/с","320 град/с","160 град/с","480 град/с","200 град/с"], "padding": 0}, "axis": null},
            "y": {"datum": 3.17, "type": "quantitative", "scale": {"domain": [0, 3.4], "reverse": true, "nice": false, "zero": false}},
            "text": {"value": "p"}
          }
        },
        {
          "data": {"name": "sigs"},
          "transform": [{"filter": {"field": "sig", "equal": "p > 0.05"}}],
          "mark": {"type": "text", "align": "left", "baseline": "middle", "dx": 115, "fontSize": 27},
          "encoding": {
            "x": {"datum": "320 град/с", "type": "nominal", "scale": {"type": "point", "domain": ["80 град/с","240 град/с","120 град/с","320 град/с","160 град/с","480 град/с","200 град/с"], "padding": 0}, "axis": null},
            "y": {"datum": 3.17, "type": "quantitative", "scale": {"domain": [0, 3.4], "reverse": true, "nice": false, "zero": false}},
            "text": {"value": "> 0.05"}
          }
        }
      ]
    }
  ]
}
